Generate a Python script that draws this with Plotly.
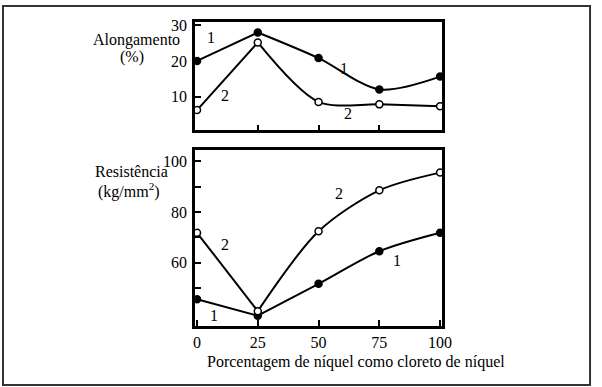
import plotly.graph_objects as go

W, H = 602, 387

# ---- data ----
nickel_pct = [0, 25, 50, 75, 100]
elong_1 = [20.0, 28.0, 20.8, 12.0, 15.6]
elong_2 = [6.2, 25.2, 8.5, 7.8, 7.3]
resist_1 = [45.5, 39.0, 51.6, 64.5, 71.8]
resist_2 = [71.8, 40.8, 72.4, 88.6, 95.6]

x_ticks = [0, 25, 50, 75, 100]
x_ticklabels = ["0", "25", "50", "75", "100"]
top_yticks = [10, 20, 30]
bot_yticks = [50, 60, 70, 80, 90, 100]
bot_yticklabels = ["", "60", "", "80", "", "100"]

FONT = "Liberation Serif, Times New Roman, DejaVu Serif, serif"
FS = 16

fig = go.Figure()

def add_curve(y, xa, ya, filled):
    # straight segment 0-25, smooth curve afterward
    fig.add_trace(go.Scatter(x=nickel_pct[:2], y=y[:2], mode="lines",
                             line=dict(color="black", width=2),
                             xaxis=xa, yaxis=ya, showlegend=False, hoverinfo="skip"))
    fig.add_trace(go.Scatter(x=nickel_pct[1:], y=y[1:], mode="lines",
                             line=dict(color="black", width=2, shape="spline", smoothing=0.85),
                             xaxis=xa, yaxis=ya, showlegend=False, hoverinfo="skip"))
    fig.add_trace(go.Scatter(x=nickel_pct, y=y, mode="markers",
                             marker=dict(size=7, symbol="circle",
                                         color="black" if filled else "white",
                                         line=dict(color="black", width=1.5)),
                             xaxis=xa, yaxis=ya, showlegend=False))

add_curve(elong_1, "x", "y", True)
add_curve(elong_2, "x", "y", False)
add_curve(resist_1, "x2", "y2", True)
add_curve(resist_2, "x2", "y2", False)

x0p, x1p = 197 / W, 449 / W
axis_common = dict(showline=True, linecolor="black", linewidth=2.5, mirror=True,
                   showgrid=False, zeroline=False, ticks="inside", ticklen=6,
                   tickcolor="black", tickwidth=1.5,
                   tickfont=dict(family=FONT, size=FS, color="black"))

fig.update_layout(
    width=W, height=H,
    margin=dict(l=0, r=0, t=0, b=0),
    paper_bgcolor="white", plot_bgcolor="white",
    font=dict(family=FONT, size=FS, color="black"),
    xaxis=dict(domain=[x0p, x1p], range=[-0.8, 100.8], tickvals=[25, 50, 75],
               showticklabels=False, anchor="y", **axis_common),
    yaxis=dict(domain=[(H - 127) / H, (H - 17) / H], range=[0.5, 31],
               tickvals=top_yticks, anchor="x", ticklabelstandoff=2, **axis_common),
    xaxis2=dict(domain=[x0p, x1p], range=[-0.8, 100.8], tickvals=x_ticks,
                ticktext=x_ticklabels, anchor="y2", **axis_common),
    yaxis2=dict(domain=[(H - 325) / H, (H - 147) / H], range=[35, 104.5],
                tickvals=bot_yticks, ticktext=bot_yticklabels, anchor="x2",
                ticklabelstandoff=2, **axis_common),
)

def lab(text, x, y, xr, yr):
    fig.add_annotation(text=text, x=x, y=y, xref=xr, yref=yr, showarrow=False,
                       font=dict(family=FONT, size=FS, color="black"))

# curve labels
lab("1", 5.6, 26.7, "x", "y")
lab("1", 60.5, 17.8, "x", "y")
lab("2", 11.7, 10.3, "x", "y")
lab("2", 62.1, 5.3, "x", "y")
lab("2", 58.5, 87.5, "x2", "y2")
lab("2", 11.7, 67.3, "x2", "y2")
lab("1", 82.3, 61, "x2", "y2")
lab("1", 6.9, 38.9, "x2", "y2")

def plab(text, px, py):
    fig.add_annotation(text=text, x=px / W, y=1 - py / H, xref="paper", yref="paper",
                       showarrow=False, xanchor="center", yanchor="middle",
                       font=dict(family=FONT, size=FS, color="black"))

plab("Alongamento", 137, 35)
plab("(%)", 133, 53)
plab("Resistência", 132, 169)
plab("(kg/mm<sup>2</sup>)", 130, 188)
plab("Porcentagem de níquel como cloreto de níquel", 361, 362)

fig.add_shape(type="rect", xref="paper", yref="paper",
              x0=1 / W, y0=1 - 385 / H, x1=600 / W, y1=1 - 1 / H,
              line=dict(color="#333333", width=2), fillcolor="rgba(0,0,0,0)")

fig.write_html("out.html", config={"displayModeBar": False},
               post_script="document.body.style.margin='0';document.body.style.overflow='hidden';")
